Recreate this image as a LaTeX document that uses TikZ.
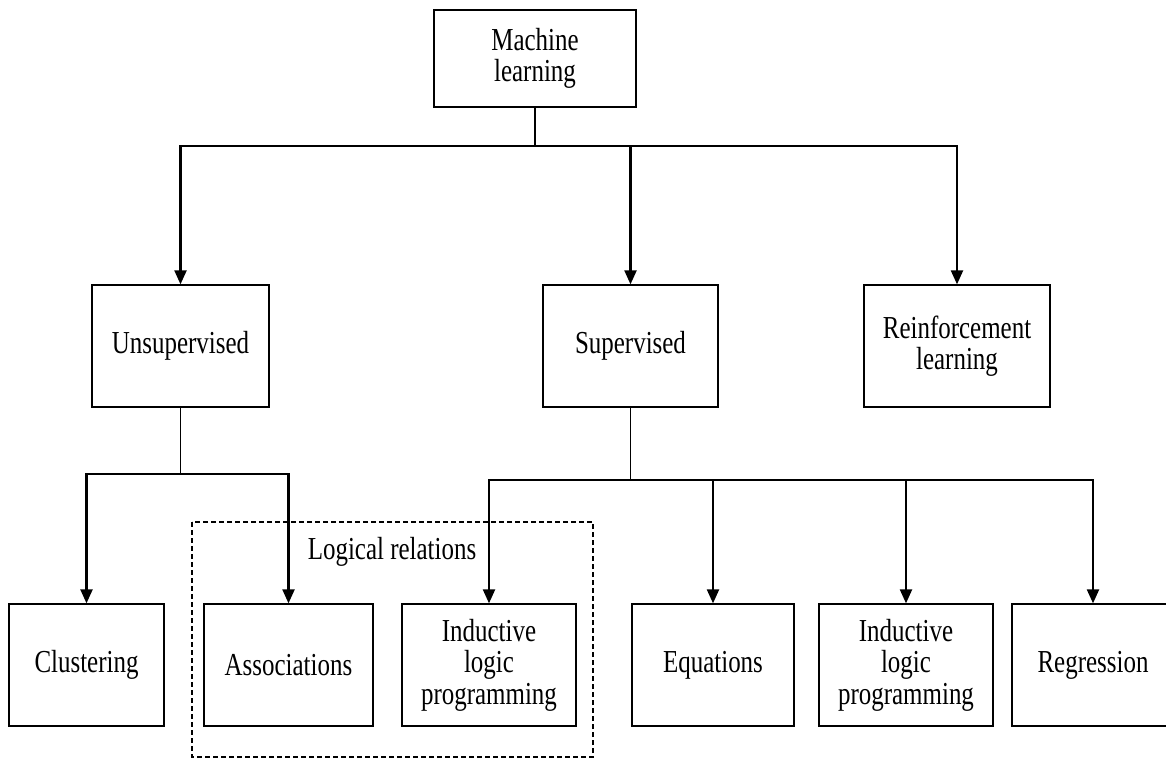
\documentclass[tikz,border=0pt]{standalone}
\usepackage{fontspec}
\setmainfont[FakeStretch=0.78]{Liberation Serif}
\usetikzlibrary{arrows.meta}
\begin{document}
\begin{tikzpicture}[x=1pt,y=-1pt,
  box/.style={draw,line width=1.3pt,inner sep=0pt,align=center,
    font=\fontsize{32}{31.5}\selectfont},
  lvl/.style={box,minimum height=122pt},
  stem/.style={line width=1.5pt},
  arr/.style={line width=2.2pt,-{Triangle[length=14pt,width=12pt]}},
  lbl/.style={inner sep=0pt,font=\fontsize{32}{31.5}\selectfont}]
\clip (0,0) rectangle (1166,758);
\fill[white] (0,0) rectangle (1166,758);
\node[box,minimum width=202pt,minimum height=97pt] (ml) at (535,58.5) {Machine\\learning};
\node[lvl,minimum width=177pt] (uns) at (180.5,346) {Unsupervised};
\node[lvl,minimum width=175pt] (sup) at (630.5,346) {Supervised};
\node[lvl,minimum width=186pt] (rl) at (957,346) {Reinforcement\\learning};
\node[lvl,minimum width=155pt] (clu) at (86.5,665) {Clustering};
\node[lvl,minimum width=169pt] (ass) at (288.5,665) {Associations};
\node[lvl,minimum width=174pt] (ilpa) at (489,665) {Inductive\\logic\\programming};
\node[lvl,minimum width=162pt] (equ) at (713,665) {Equations};
\node[lvl,minimum width=174pt] (ilpb) at (906,665) {Inductive\\logic\\programming};
\node[lvl,minimum width=162pt] (reg) at (1093,665) {Regression};
\draw[line width=1.3pt,dash pattern=on 5pt off 3pt] (192,522) rectangle (593,757);
\node[lbl] (lr) at (392,552) {Logical relations};
\coordinate (j1) at (535,146);
\coordinate (j2) at (180.5,474);
\coordinate (j3) at (630.5,480);
\draw[stem] (ml.south) -- (j1);
\draw[line width=2.2pt] (180.5,146) -- (957,146);
\draw[arr] (j1) -| (uns.north);
\draw[arr] (j1) -| (sup.north);
\draw[arr] (j1) -| (rl.north);
\draw[stem] (uns.south) -- (j2);
\draw[line width=2.2pt] (86.5,474) -- (288.5,474);
\draw[arr] (j2) -| (clu.north);
\draw[arr] (j2) -| (ass.north);
\draw[stem] (sup.south) -- (j3);
\draw[line width=2.2pt] (489,480) -- (1093,480);
\draw[arr] (j3) -| (ilpa.north);
\draw[arr] (j3) -| (equ.north);
\draw[arr] (j3) -| (ilpb.north);
\draw[arr] (j3) -| (reg.north);
\end{tikzpicture}
\end{document}
